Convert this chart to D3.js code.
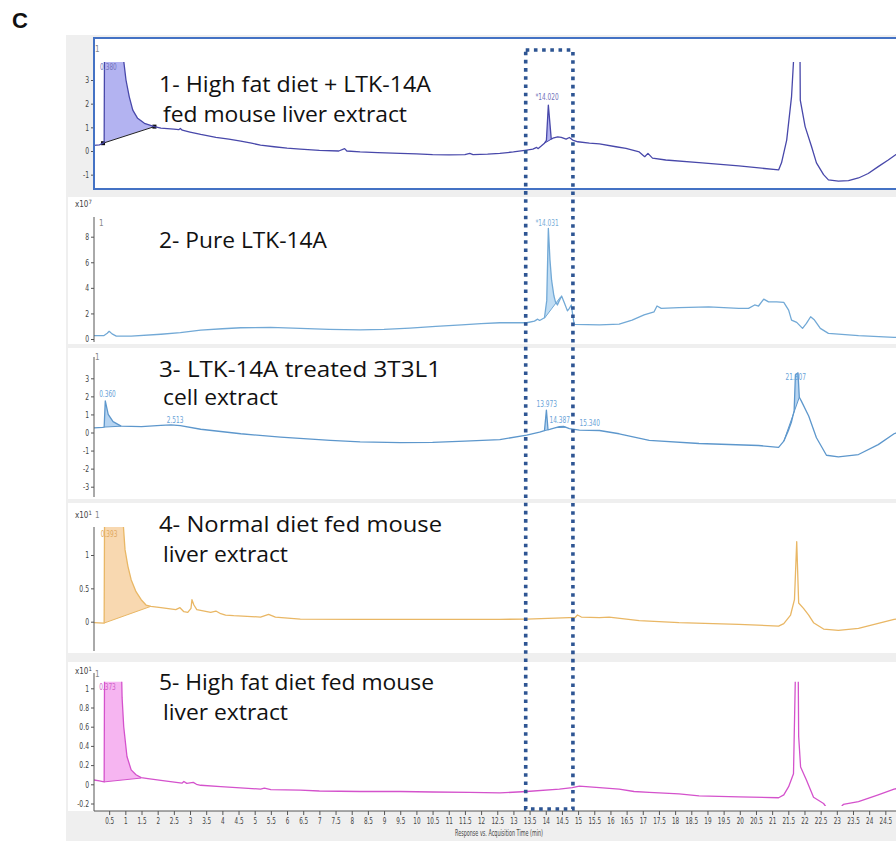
<!DOCTYPE html>
<html><head><meta charset="utf-8">
<script src="https://cdn.jsdelivr.net/npm/d3@7"></script>
<style>
body{margin:0;background:#fff}
.small{font-family:"Liberation Sans Narrow","DejaVu Sans Condensed","Liberation Sans",sans-serif;font-size:9px}
</style>
</head><body>
<svg id="chart" width="896" height="841"></svg>
<script>
// Chromatogram traces: [retention time (min), response]
const trace1 = [[0.03,0.24],[0.2,0.26],[0.31,0.33],[0.345,0.36],[0.36,6],[0.9,6],[0.95,3.8],[1.02,3.0],[1.12,2.3],[1.23,1.73],[1.38,1.38],[1.59,1.17],[1.9,1.03],[2.1,0.97],[2.5,0.92],[2.65,0.9],[2.7,0.95],[2.76,0.88],[3.0,0.8],[3.33,0.7],[3.8,0.58],[4.2,0.5],[4.57,0.42],[4.9,0.33],[5.18,0.25],[5.6,0.18],[6.0,0.12],[6.41,0.08],[7.0,0.03],[7.6,0.0],[7.78,0.1],[7.85,0.0],[8.26,-0.04],[8.8,-0.07],[9.5,-0.1],[10.0,-0.12],[10.5,-0.15],[11.0,-0.16],[11.5,-0.15],[11.65,-0.1],[11.75,-0.15],[12.2,-0.13],[12.58,-0.1],[13.0,-0.04],[13.41,0.04],[13.6,0.08],[13.72,0.15],[13.76,0.1],[13.85,0.2],[13.96,0.33],[14.02,0.45],[14.08,1.94],[14.17,0.5],[14.22,0.54],[14.37,0.6],[14.48,0.58],[14.63,0.5],[14.73,0.57],[14.83,0.46],[14.99,0.39],[15.35,0.33],[15.66,0.3],[16.17,0.18],[16.48,0.11],[16.89,-0.04],[17.06,-0.24],[17.16,-0.1],[17.3,-0.3],[17.71,-0.38],[18.74,-0.49],[19.97,-0.63],[21.2,-0.8],[21.29,-0.5],[21.45,0.46],[21.6,2.3],[21.69,4.5],[21.74,8],[21.845,8],[21.87,2.15],[22.02,1.03],[22.22,0.18],[22.37,-0.5],[22.59,-1.0],[22.74,-1.22],[23.05,-1.27],[23.36,-1.25],[23.67,-1.14],[23.97,-0.95],[24.28,-0.66],[24.59,-0.38],[24.9,-0.08],[25,0.0]];
const trace2 = [[0.03,0.26],[0.33,0.26],[0.44,0.45],[0.5,0.6],[0.59,0.4],[0.72,0.23],[1.18,0.22],[2.1,0.37],[2.7,0.5],[3.33,0.7],[4.0,0.8],[4.57,0.88],[5.49,0.91],[6.41,0.83],[7.3,0.76],[8.26,0.72],[9.0,0.75],[9.8,0.85],[10.6,0.98],[11.4,1.1],[12.0,1.2],[12.58,1.27],[13.41,1.27],[13.65,1.4],[13.75,1.55],[13.81,1.45],[13.96,1.66],[14.03,3.0],[14.08,8.65],[14.13,6.2],[14.18,4.6],[14.25,3.4],[14.3,2.9],[14.36,2.66],[14.42,3.0],[14.49,3.36],[14.58,2.8],[14.67,2.2],[14.73,2.4],[14.79,2.66],[14.85,1.6],[14.88,1.15],[15.66,1.1],[16.27,1.17],[16.67,1.48],[17.04,1.88],[17.35,2.13],[17.44,2.58],[17.57,2.4],[18.12,2.45],[19.04,2.52],[19.97,2.4],[20.27,2.4],[20.46,2.66],[20.58,2.58],[20.74,3.12],[20.89,2.9],[21.14,2.9],[21.36,2.86],[21.51,2.26],[21.6,1.48],[21.76,1.3],[21.94,0.83],[22.06,1.22],[22.19,1.74],[22.31,1.48],[22.49,0.83],[22.74,0.44],[23.67,0.26],[24.77,0.13],[25,0.12]];
const trace3 = [[0.03,0.26],[0.3,0.28],[0.345,0.3],[0.38,1.75],[0.47,1.0],[0.62,0.6],[0.87,0.35],[1.5,0.32],[2.1,0.39],[2.41,0.42],[2.7,0.38],[3.33,0.18],[4.57,-0.07],[5.8,-0.26],[7.34,-0.44],[8.26,-0.52],[9.5,-0.56],[10.5,-0.55],[11.5,-0.48],[12.58,-0.39],[13.41,-0.15],[13.81,0.02],[13.96,0.1],[14.02,1.24],[14.07,0.15],[14.12,0.17],[14.42,0.32],[14.55,0.34],[14.73,0.22],[15.04,0.13],[15.66,0.11],[16.27,-0.07],[17.2,-0.44],[18.74,-0.61],[20.58,-0.72],[21.2,-0.82],[21.36,-0.48],[21.5,0.1],[21.6,0.6],[21.68,1.2],[21.72,3.2],[21.8,3.3],[21.84,1.95],[21.9,1.75],[22.13,0.91],[22.37,-0.29],[22.68,-1.26],[23.05,-1.35],[23.67,-1.22],[24.28,-0.67],[24.77,-0.07],[25,0.1]];
const trace4 = [[0.03,-0.015],[0.33,-0.02],[0.345,-0.02],[0.36,2.0],[0.9,2.0],[0.93,1.5],[0.99,1.08],[1.08,0.83],[1.18,0.63],[1.33,0.45],[1.49,0.33],[1.64,0.25],[1.79,0.23],[2.1,0.21],[2.56,0.18],[2.69,0.21],[2.81,0.15],[2.93,0.14],[3.03,0.2],[3.06,0.33],[3.12,0.25],[3.21,0.18],[3.64,0.14],[3.8,0.16],[3.95,0.12],[4.1,0.1],[4.35,0.09],[5.18,0.07],[5.43,0.11],[5.64,0.07],[6.41,0.04],[8.26,0.035],[10.5,0.035],[12.58,0.035],[13.41,0.04],[14.73,0.06],[14.9,0.06],[14.98,0.1],[15.1,0.07],[15.66,0.06],[15.96,0.07],[16.89,0.015],[18.12,-0.015],[19.97,-0.04],[21.2,-0.065],[21.36,-0.03],[21.57,0.1],[21.69,0.33],[21.76,1.2],[21.82,0.28],[21.97,0.2],[22.13,0.1],[22.28,-0.015],[22.59,-0.11],[23.05,-0.13],[23.67,-0.1],[24.28,-0.025],[24.77,0.035],[25,0.05]];
const trace5 = [[0.03,0.045],[0.2,0.035],[0.345,0.025],[0.36,1.5],[0.86,1.5],[0.9,0.9],[0.95,0.6],[1.05,0.29],[1.18,0.15],[1.33,0.1],[1.49,0.07],[1.7,0.06],[2.1,0.04],[2.75,0.012],[2.81,0.03],[2.9,0.01],[3.1,0.02],[3.2,0.0],[3.33,-0.01],[3.95,-0.025],[5.18,-0.05],[5.3,-0.04],[5.5,-0.055],[6.41,-0.06],[7.0,-0.07],[8.26,-0.075],[9.5,-0.075],[10.5,-0.08],[11.65,-0.085],[12.58,-0.09],[13.41,-0.075],[14.42,-0.05],[14.82,-0.035],[15.04,-0.02],[15.66,-0.035],[16.27,-0.05],[16.73,-0.075],[17.2,-0.085],[18.12,-0.1],[18.74,-0.12],[19.97,-0.13],[21.2,-0.14],[21.36,-0.11],[21.51,-0.025],[21.66,0.11],[21.74,1.5],[21.8,1.5],[21.82,0.5],[21.88,0.18],[22.06,0.045],[22.28,-0.135],[22.59,-0.2],[22.72,-0.26],[22.9,-0.3],[23.1,-0.25],[23.2,-0.21],[23.67,-0.18],[24.28,-0.11],[24.77,-0.05],[25,-0.035]];

// Integrated peaks: start/end time with baseline response at each end
const fills1 = [{from:0.31,to:1.9,b0:0.33,b1:1.03,marks:true},{from:13.96,to:14.17,b0:0.33,b1:0.5}];
const fills2 = [{from:13.96,to:14.46,b0:1.62,b1:3.3}];
const fills3 = [{from:0.345,to:0.87,b0:0.3,b1:0.35},{from:13.96,to:14.07,b0:0.1,b1:0.15},{from:14.3,to:14.62,b0:0.27,b1:0.29},{from:21.36,to:21.84,b0:-0.48,b1:1.95}];
const fills4 = [{from:0.345,to:1.79,b0:-0.02,b1:0.23}];
const fills5 = [{from:0.345,to:1.49,b0:0.025,b1:0.065}];

// Peak annotations: time, response, text
const labels1 = [{t:0.22,v:3.42,text:"0.380",anchor:"start"},{t:14.04,v:2.15,text:"*14.020",anchor:"middle"}];
const labels2 = [{t:14.04,v:8.8,text:"*14.031",anchor:"middle"}];
const labels3 = [{t:0.19,v:1.94,text:"0.360",anchor:"start"},{t:2.28,v:0.55,text:"2.513",anchor:"start"},{t:14.03,v:1.39,text:"13.973",anchor:"middle"},{t:14.43,v:0.55,text:"14.387",anchor:"middle"},{t:15.36,v:0.37,text:"15.340",anchor:"middle"},{t:21.73,v:2.9,text:"21.807",anchor:"middle"}];
const labels4 = [{t:0.24,v:1.27,text:"0.393",anchor:"start"}];
const labels5 = [{t:0.19,v:0.98,text:"0.373",anchor:"start"}];

// Axis ticks
const ticks1 = [-1,0,1,2,3];
const ticks2 = [0,2,4,6,8];
const ticks3 = [-3,-2,-1,0,1,2,3];
const ticks4 = [0,0.5,1];
const ticks5 = [-0.2,0,0.2,0.4,0.6,0.8,1];
const timeTicks = [0.5,1,1.5,2,2.5,3,3.5,4,4.5,5,5.5,6,6.5,7,7.5,8,8.5,9,9.5,10,10.5,11,11.5,12,12.5,13,13.5,14,14.5,15,15.5,16,16.5,17,17.5,18,18.5,19,19.5,20,20.5,21,21.5,22,22.5,23,23.5,24,24.5];

// Sample names
const title1 = ["1- High fat diet + LTK-14A","fed mouse liver extract"];
const title2 = ["2- Pure LTK-14A"];
const title3 = ["3- LTK-14A treated 3T3L1","cell extract"];
const title4 = ["4- Normal diet fed mouse","liver extract"];
const title5 = ["5- High fat diet fed mouse","liver extract"];

// Highlighted retention window (min)
const windowFrom = 13.38, windowTo = 14.84;

const svg = d3.select("#chart");
const x = d3.scaleLinear().domain([0, 25]).range([93, 901.5]);

function interp(tr, t) {
  for (let i = 1; i < tr.length; i++) {
    if (tr[i][0] >= t) {
      const [t0, v0] = tr[i - 1], [t1, v1] = tr[i];
      return v0 + (v1 - v0) * (t - t0) / (t1 - t0);
    }
  }
  return tr[tr.length - 1][1];
}
function squeeze(sel, k) {
  sel.each(function () {
    const w = this.getComputedTextLength();
    d3.select(this).attr("textLength", w * k).attr("lengthAdjust", "spacingAndGlyphs");
  });
}

// grey frame
svg.append("rect").attr("x", 66).attr("y", 35).attr("width", 840).attr("height", 806).attr("fill", "#efefef");

const panels = [
  {trace: trace1, ticks: ticks1, dom: [0, 3], rng: [151, 80], clipY: [62, 189], axisY: null, bg: [38, 189], bgX: 94,
   line: "#4848aa", fill: "#a6a6ee", lab: "#7474bc", fills: fills1, labels: labels1, title: title1, titleY: [92, 122], titleW: [272, 244], exp: null, one: [95, 52]},
  {trace: trace2, ticks: ticks2, dom: [0, 8], rng: [339, 236.7], clipY: [217, 342], axisY: [217, 342], bg: [197, 344], bgX: 68,
   line: "#72a9d6", fill: "#b5d7f2", lab: "#78acd8", fills: fills2, labels: labels2, title: title2, titleY: [247.7], titleW: [168], exp: {p: "7", y: 207}, one: [99, 226]},
  {trace: trace3, ticks: ticks3, dom: [-3, 3], rng: [486.7, 378.3], clipY: [357, 497], axisY: [357, 497], bg: [348, 499], bgX: 68,
   line: "#5d97cc", fill: "#a9cdef", lab: "#6aa3d8", fills: fills3, labels: labels3, title: title3, titleY: [376.7, 405], titleW: [282, 115], exp: null, one: [95, 360]},
  {trace: trace4, ticks: ticks4, dom: [0, 1], rng: [621.7, 555], clipY: [527, 651], axisY: [527, 651], bg: [503, 653], bgX: 68,
   line: "#e9b765", fill: "#f7d1a2", lab: "#e0a860", fills: fills4, labels: labels4, title: title4, titleY: [531.7, 561.7], titleW: [283, 125], exp: {p: "1", y: 518}, one: [95, 518]},
  {trace: trace5, ticks: ticks5, dom: [0, 1], rng: [784.3, 688.3], clipY: [681.7, 806], axisY: [673, 811], bg: [662, 811], bgX: 68,
   line: "#d452cc", fill: "#f4a8ee", lab: "#d060c8", fills: fills5, labels: labels5, title: title5, titleY: [690, 720], titleW: [275, 125], exp: {p: "1", y: 674}, one: [95, 677]}
];

panels.forEach((p, i) => {
  const y = d3.scaleLinear().domain(p.dom).range(p.rng);
  const g = svg.append("g");
  g.append("rect").attr("x", p.bgX).attr("y", p.bg[0]).attr("width", 910 - p.bgX).attr("height", p.bg[1] - p.bg[0]).attr("fill", "#fff");

  const cid = "clip" + i;
  svg.append("clipPath").attr("id", cid).append("rect")
    .attr("x", 94).attr("y", p.clipY[0]).attr("width", 810).attr("height", p.clipY[1] - p.clipY[0]);
  const plot = g.append("g").attr("clip-path", `url(#${cid})`);

  // integrated peak areas
  p.fills.forEach(f => {
    const ts = [f.from, ...p.trace.map(d => d[0]).filter(t => t > f.from && t < f.to), f.to];
    const pts = ts.map(t => ({t, top: interp(p.trace, t), base: f.b0 + (f.b1 - f.b0) * (t - f.from) / (f.to - f.from)}));
    plot.append("path").datum(pts)
      .attr("d", d3.area().x(d => x(d.t)).y0(d => y(d.base)).y1(d => y(d.top)))
      .attr("fill", p.fill).attr("fill-opacity", 0.85);
    plot.append("line")
      .attr("x1", x(f.from)).attr("y1", y(f.b0)).attr("x2", x(f.to)).attr("y2", y(f.b1))
      .attr("stroke", f.marks ? "#222" : p.line).attr("stroke-width", 1);
    if (f.marks) {
      [[f.from, f.b0], [f.to, f.b1]].forEach(([t, v]) => {
        plot.append("rect").attr("x", x(t) - 2).attr("y", y(v) - 2).attr("width", 4).attr("height", 4).attr("fill", "#111");
      });
    }
  });

  plot.append("path").datum(p.trace)
    .attr("d", d3.line().x(d => x(d[0])).y(d => y(d[1])))
    .attr("fill", "none").attr("stroke", p.line).attr("stroke-width", 1.3).attr("stroke-linejoin", "round");

  // peak annotations
  p.labels.forEach(l => {
    g.append("text").attr("class", "small").attr("x", x(l.t)).attr("y", y(l.v))
      .attr("text-anchor", l.anchor).attr("fill", p.lab).text(l.text).call(squeeze, 0.72);
  });

  // y axis
  const ax = g.append("g").attr("transform", "translate(94,0)")
    .call(d3.axisLeft(y).tickValues(p.ticks).tickSize(3).tickPadding(2).tickFormat(d => String(d)));
  ax.select(".domain").remove();
  ax.selectAll(".tick line").attr("stroke", "#555");
  ax.selectAll(".tick text").attr("class", "small").attr("fill", "#444").style("font-size", "9px").call(squeeze, 0.75);
  if (p.axisY) {
    g.append("line").attr("x1", 94).attr("x2", 94).attr("y1", p.axisY[0]).attr("y2", p.axisY[1]).attr("stroke", "#555");
  }
  if (p.exp) {
    const t = g.append("text").attr("class", "small").attr("x", 75).attr("y", p.exp.y).attr("fill", "#444").style("font-size", "8px");
    t.append("tspan").text("x10");
    t.append("tspan").attr("dy", -3).style("font-size", "6px").text(p.exp.p);
  }
  g.append("text").attr("class", "small").attr("x", p.one[0]).attr("y", p.one[1]).attr("fill", "#888").style("font-size", "8px").text("1");

  // sample name
  p.title.forEach((s, k) => {
    g.append("text").attr("x", k === 0 ? 159 : 163).attr("y", p.titleY[k])
      .attr("textLength", p.titleW[k]).attr("lengthAdjust", "spacingAndGlyphs")
      .style("font-family", "'Open Sans', Lato, sans-serif").style("font-size", "22px").attr("fill", "#111").text(s);
  });

  if (i === 0) {
    g.append("rect").attr("x", 94).attr("y", 38).attr("width", 815).attr("height", 151)
      .attr("fill", "none").attr("stroke", "#4472c4").attr("stroke-width", 2);
  }
});

// time axis
const xa = svg.append("g").attr("transform", "translate(0,811)")
  .call(d3.axisBottom(x).tickValues(timeTicks).tickSize(4).tickPadding(3).tickFormat(d => String(d)));
xa.select(".domain").remove();
xa.selectAll(".tick line").attr("stroke", "#555");
xa.selectAll(".tick text").attr("class", "small").attr("fill", "#444").style("font-size", "9px").call(squeeze, 0.7);
svg.append("line").attr("x1", 94).attr("x2", 903).attr("y1", 811).attr("y2", 811).attr("stroke", "#555");
svg.append("text").attr("class", "small").attr("x", 499).attr("y", 836).attr("text-anchor", "middle")
  .attr("fill", "#444").style("font-size", "9px").text("Response vs. Acquisition Time (min)")
  .attr("textLength", 88).attr("lengthAdjust", "spacingAndGlyphs");

// highlighted retention window
svg.append("rect").attr("x", x(windowFrom)).attr("y", 50).attr("width", x(windowTo) - x(windowFrom)).attr("height", 759)
  .attr("fill", "none").attr("stroke", "#2e5593").attr("stroke-width", 3.6).attr("stroke-dasharray", "3.6 4.6");

// panel letter
svg.append("text").attr("x", 12).attr("y", 28).style("font-family", "'Liberation Sans', Arial, sans-serif")
  .style("font-size", "22px").style("font-weight", "bold").attr("fill", "#111").text("C");
</script>
</body></html>
